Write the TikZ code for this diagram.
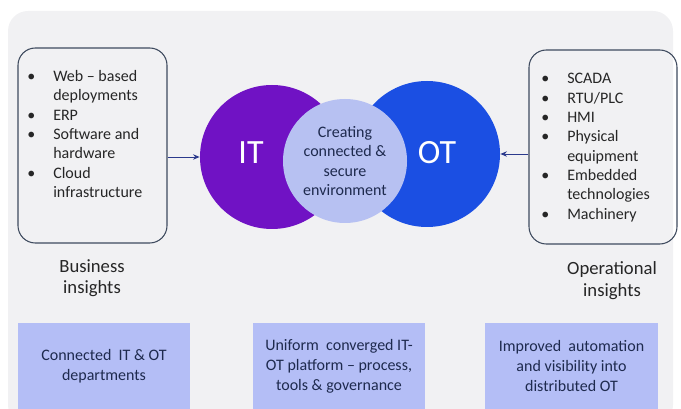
\documentclass[tikz,border=0pt]{standalone}
\usepackage{fontspec}
\setmainfont{Carlito}
\usetikzlibrary{arrows.meta}

\definecolor{panelgray}{HTML}{F1F1F3}
\definecolor{itpurple}{HTML}{7012C4}
\definecolor{otblue}{HTML}{1B4FE3}
\definecolor{midlav}{HTML}{B7C1F2}
\definecolor{boxlav}{HTML}{B4BEF6}
\definecolor{framegray}{HTML}{3E4A5E}
\definecolor{navytext}{HTML}{1E2A4E}
\definecolor{arrowblue}{HTML}{2B3A8C}
\definecolor{bodytext}{HTML}{262626}

\newcommand\itembul{\makebox[19.5pt][l]{\textbullet}}

\begin{document}
\begin{tikzpicture}[x=0.75pt,y=-0.75pt,
  listbox/.style={draw=framegray, line width=0.8pt, rounded corners=13pt, inner sep=0pt},
  listtext/.style={anchor=west, inner sep=0pt, text=bodytext, font=\fontsize{12}{14.5}\selectfont},
  insight/.style={align=center, inner sep=0pt, text=bodytext, font=\fontsize{14}{16}\selectfont},
  disc/.style={circle, inner sep=0pt},
  biglabel/.style={text=white, inner sep=0pt, font=\fontsize{25.5}{30}\selectfont},
  feature/.style={fill=boxlav, inner sep=0pt, align=center, text=navytext,
                  minimum height=64.5pt, font=\fontsize{12}{15}\selectfont},
  feed/.style={-{Stealth[length=5pt,width=4pt]}, draw=arrowblue, line width=0.7pt}]

\useasboundingbox (0,0) rectangle (681,409);

% backdrop panel
\fill[panelgray, rounded corners=15pt] (8,11) rectangle (673,425);

% source lists
\node[listbox, minimum width=111.75pt, minimum height=146.25pt] (lbox) at (92.5,145.5) {};
\node[listbox, minimum width=111pt, minimum height=145.5pt] (rbox) at (603,147) {};

\node[listtext] (llist) at (27,135.5) {%
  \begin{tabular}{@{}l@{}l@{}}
  \itembul & Web -- based\\
           & deployments\\
  \itembul & ERP\\
  \itembul & Software and\\
           & hardware\\
  \itembul & Cloud\\
           & infrastructure
  \end{tabular}};

\node[listtext] (rlist) at (541,147.5) {%
  \begin{tabular}{@{}l@{}l@{}}
  \itembul & SCADA\\
  \itembul & RTU/PLC\\
  \itembul & HMI\\
  \itembul & Physical\\
           & equipment\\
  \itembul & Embedded\\
           & technologies\\
  \itembul & Machinery
  \end{tabular}};

\node[insight] (bins) at (92,278) {Business\\insights};
\node[insight] (oins) at (612,280.5) {Operational\\insights};

% converging circles
\node[disc, fill=itpurple, minimum size=108pt] (it) at (272,157) {};
\node[disc, fill=otblue, minimum size=109.5pt] (ot) at (427,154) {};
\node[disc, fill=midlav, minimum size=93pt, align=center, text=navytext,
      font=\fontsize{12}{14.3}\selectfont] (mid) at (345,161)
      {Creating\\connected \&\\secure\\environment};

\node[biglabel] (itlab) at (251,153) {IT};
\node[biglabel] (otlab) at (437,153) {OT};

% feeds into the circles
\draw[feed] (lbox.east |- it.west) -- (it.west);
\draw[feed] (rbox.west |- ot.east) -- (ot.east);

% outcome boxes
\node[feature, minimum width=129pt] (out1) at (104,366) {Connected\ \ IT \& OT\\departments};
\node[feature, minimum width=129pt] (out2) at (339,366) {Uniform\ \ converged IT-\\OT platform -- process,\\tools \& governance};
\node[feature, minimum width=129.75pt] (out3) at (571.5,366) {Improved\ \ automation\\and visibility into\\distributed OT};

\end{tikzpicture}
\end{document}
